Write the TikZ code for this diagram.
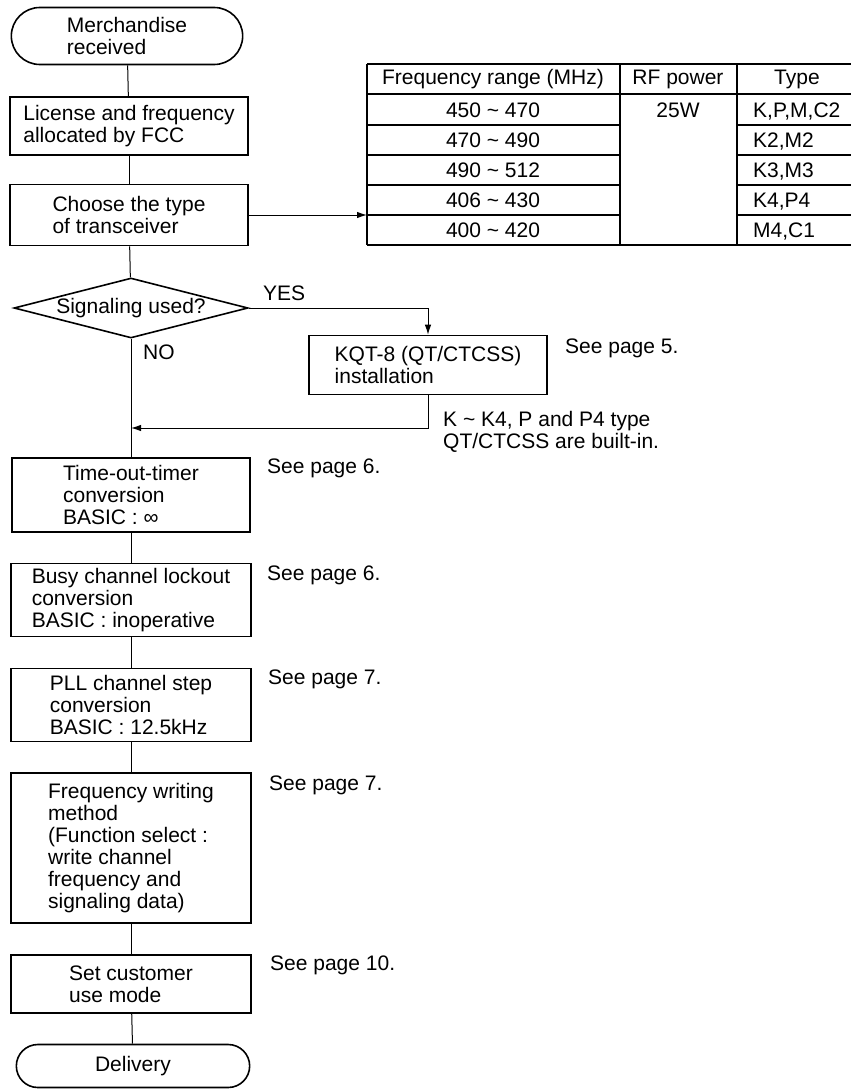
\documentclass[tikz,border=0pt]{standalone}
\usepackage{fontspec}
\setmainfont{Liberation Sans}
\usetikzlibrary{shapes.geometric,shapes.misc,arrows.meta}
\begin{document}
\begin{tikzpicture}[x=1pt,y=-1pt,
		font=\fontsize{21}{22}\selectfont,
		box/.style={draw, line width=1.6pt, align=left, inner sep=4pt, minimum width=238pt},
		term/.style={draw, line width=1.6pt, rounded rectangle, align=left, minimum width=238pt},
		decision/.style={draw, line width=1.6pt, diamond, aspect=3.9, inner sep=0pt, minimum width=234pt, minimum height=60pt},
		note/.style={anchor=west, align=left, inner sep=0pt},
		flow/.style={black, line width=1pt},
		flowarrow/.style={black, line width=1pt, -{Latex[length=10pt,width=6.5pt]}},
		grid/.style={black, line width=1.4pt}]
		\useasboundingbox (0,0) rectangle (851,1089);
		% main flow
		\node [term, minimum height=57pt] at (127, 36) (1) {Merchandise\\received};
		\node [box, minimum height=58pt] at (129, 126) (2) {License and frequency\\allocated by FCC};
		\node [box, minimum height=61pt] at (129, 215) (3) {Choose the type\\of transceiver};
		\node [decision] at (131, 308) (4) {Signaling used?};
		\node [box, minimum height=59pt] at (428, 365) (5) {KQT-8 (QT/CTCSS)\\installation};
		\node [box, minimum height=74pt] at (131, 495) (6) {Time-out-timer\\conversion\\BASIC : ∞};
		\node [box, minimum height=73pt, minimum width=240pt] at (131, 600) (7) {Busy channel lockout\\conversion\\BASIC : inoperative};
		\node [box, minimum height=73pt, minimum width=240pt] at (131, 705) (8) {PLL channel step\\conversion\\BASIC : 12.5kHz};
		\node [box, minimum height=150pt, minimum width=240pt] at (131, 848) (9) {Frequency writing\\method\\(Function select :\\write channel\\frequency and\\signaling data)};
		\node [box, minimum height=58pt, minimum width=240pt] at (131, 984) (10) {Set customer\\use mode};
		\node [term, minimum height=43pt, minimum width=240pt] at (133, 1066) (11) {Delivery};
		\coordinate (j) at (131, 428);
		\coordinate (tab) at (367, 215);
		\draw [flow] (1) -- (2);
		\draw [flow] (2) -- (3);
		\draw [flow] (3) -- (4);
		\draw [flowarrow] (3.east) -- (tab);
		\draw [flowarrow] (4.east) -| (5.north);
		\draw [flowarrow] (5.south) |- (j);
		\draw [flow] (4.south) -- (6.north);
		\draw [flow] (6) -- (7);
		\draw [flow] (7) -- (8);
		\draw [flow] (8) -- (9);
		\draw [flow] (9) -- (10);
		\draw [flow] (10) -- (11);
		% labels
		\node [note] at (263, 293) (yes) {YES};
		\node [note] at (143, 352) (no) {NO};
		\node [note] at (565, 348) (p5) {See page 5.};
		\node [note] at (443, 432) (kk) {K \textasciitilde\ K4, P and P4 type\\QT/CTCSS are built-in.};
		\node [note] at (267, 468) (p6a) {See page 6.};
		\node [note] at (267, 575) (p6b) {See page 6.};
		\node [note] at (268, 679) (p7a) {See page 7.};
		\node [note] at (269, 785) (p7b) {See page 7.};
		\node [note] at (270, 965) (p10) {See page 10.};
		% table
		\draw [grid] (367, 64) -- (851, 64);
		\draw [grid] (367, 94) -- (851, 94);
		\foreach \y in {125, 155, 185, 215} {
			\draw [grid] (367, \y) -- (620, \y);
			\draw [grid] (737, \y) -- (851, \y);
		}
		\draw [grid] (367, 245) -- (851, 245);
		\draw [grid] (367, 64) -- (367, 245);
		\draw [grid] (620, 64) -- (620, 245);
		\draw [grid] (737, 64) -- (737, 245);
		\node at (493, 79) (h1) {Frequency range (MHz)};
		\node at (678, 79) (h2) {RF power};
		\node at (797, 79) (h3) {Type};
		\node at (678, 110) (rf) {25W};
		\foreach \lo/\hi/\ty [count=\i] in {450/470/{K,P,M,C2}, 470/490/{K2,M2}, 490/512/{K3,M3}, 406/430/{K4,P4}, 400/420/{M4,C1}} {
			\node at (493, 80+30*\i) (f\i) {\lo\ \textasciitilde\ \hi};
			\node [anchor=base west, inner sep=0pt] at (753, 87.5+30*\i) (t\i) {\ty};
		}
	\end{tikzpicture}
\end{document}
